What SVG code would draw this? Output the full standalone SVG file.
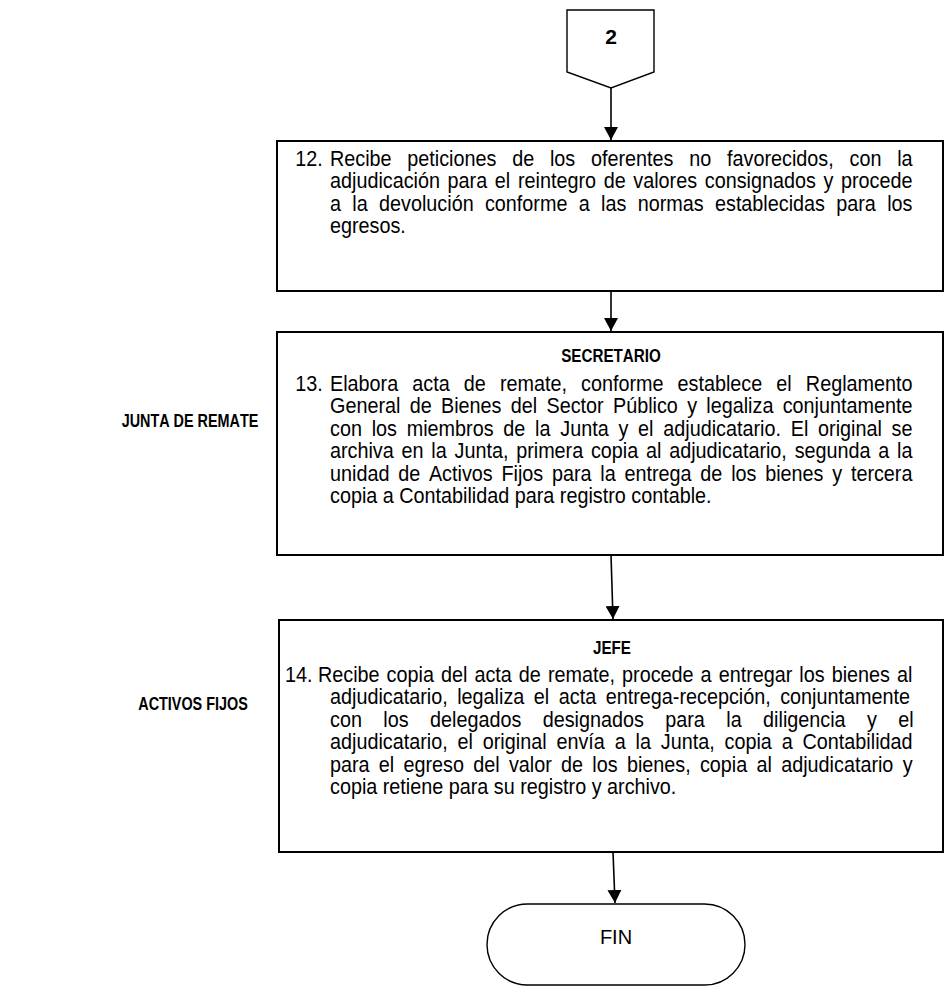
<svg xmlns="http://www.w3.org/2000/svg" width="947" height="994" viewBox="0 0 947 994">
  <style>
    .box { fill: #fff; stroke: #000; stroke-width: 2; }
    .thin { fill: #fff; stroke: #000; stroke-width: 1.4; }
    .flow { fill: none; stroke: #000; stroke-width: 1.6; }
    text { font-family: "Liberation Sans", Arial, sans-serif; fill: #000; font-kerning: none; }
    .body { font-size: 22px; }
    .head { font-size: 19px; font-weight: bold; text-anchor: middle; }
    .lane { font-size: 18px; font-weight: bold; text-anchor: middle; }
  </style>
  <defs>
    <marker id="arrow" markerUnits="userSpaceOnUse" markerWidth="14" markerHeight="14" viewBox="0 0 14 14" refX="13" refY="7" orient="auto">
      <path d="M0,0 L13,7 L0,14 Z" fill="#000"/>
    </marker>
  </defs>
  <rect width="947" height="994" fill="#fff"/>

  <!-- lane labels (condensed) -->
  <text class="lane" transform="translate(190,427) scale(0.8,1)">JUNTA DE REMATE</text>
  <text class="lane" transform="translate(193,710) scale(0.8,1)">ACTIVOS FIJOS</text>

  <!-- connectors -->
  <g id="connectors">
    <path class="flow" d="M611,88 L611,140" marker-end="url(#arrow)"/>
    <path class="flow" d="M611,291 L611,331" marker-end="url(#arrow)"/>
    <path class="flow" d="M611,555 L613,619" marker-end="url(#arrow)"/>
    <path class="flow" d="M613,852 L615,903" marker-end="url(#arrow)"/>
  </g>

  <!-- off-page connector 2 -->
  <g id="offpage-2">
    <path class="thin" d="M567,10 L654,10 L654,72 L611,88 L567,72 Z"/>
    <text x="611" y="44" font-size="21" font-weight="bold" text-anchor="middle">2</text>
  </g>

  <!-- step 12 -->
  <g id="step-12">
    <rect class="box" x="277" y="141" width="666" height="150"/>
    <g transform="scale(0.9,1)">
      <text class="body" x="328" y="166">12.</text>
      <text class="body" x="366.67" y="166" word-spacing="11.43">Recibe peticiones de los oferentes no favorecidos, con la</text>
      <text class="body" x="366.67" y="188.5" word-spacing="2.41">adjudicación para el reintegro de valores consignados y procede</text>
      <text class="body" x="366.67" y="211" word-spacing="6.49">a la devolución conforme a las normas establecidas para los</text>
      <text class="body" x="366.67" y="233.5">egresos.</text>
    </g>
  </g>

  <!-- step 13 -->
  <g id="step-13">
    <rect class="box" x="277" y="332" width="666" height="223"/>
    <text class="head" transform="translate(611,362) scale(0.8,1)">SECRETARIO</text>
    <g transform="scale(0.9,1)">
      <text class="body" x="328" y="391">13.</text>
      <text class="body" x="366.67" y="391" word-spacing="9.57">Elabora acta de remate, conforme establece el Reglamento</text>
      <text class="body" x="366.67" y="413.5" word-spacing="4.24">General de Bienes del Sector Público y legaliza conjuntamente</text>
      <text class="body" x="366.67" y="436" word-spacing="4.76">con los miembros de la Junta y el adjudicatario. El original se</text>
      <text class="body" x="366.67" y="458.5" word-spacing="2.54">archiva en la Junta, primera copia al adjudicatario, segunda a la</text>
      <text class="body" x="366.67" y="481" word-spacing="3.64">unidad de Activos Fijos para la entrega de los bienes y tercera</text>
      <text class="body" x="366.67" y="503.5">copia a Contabilidad para registro contable.</text>
    </g>
  </g>

  <!-- step 14 -->
  <g id="step-14">
    <rect class="box" x="279" y="620" width="664" height="232"/>
    <text class="head" transform="translate(612,654) scale(0.8,1)">JEFE</text>
    <g transform="scale(0.9,1)">
      <text class="body" x="316.67" y="682">14.</text>
      <text class="body" x="353.33" y="682" word-spacing="1.74">Recibe copia del acta de remate, procede a entregar los bienes al</text>
      <text class="body" x="366.67" y="704.5" word-spacing="4.52">adjudicatario, legaliza el acta entrega-recepción, conjuntamente</text>
      <text class="body" x="366.67" y="727" word-spacing="17.69">con los delegados designados para la diligencia y el</text>
      <text class="body" x="366.67" y="749.5" word-spacing="4.86">adjudicatario, el original envía a la Junta, copia a Contabilidad</text>
      <text class="body" x="366.67" y="772" word-spacing="4.2">para el egreso del valor de los bienes, copia al adjudicatario y</text>
      <text class="body" x="366.67" y="794.5">copia retiene para su registro y archivo.</text>
    </g>
  </g>

  <!-- terminator -->
  <g id="fin">
    <rect class="thin" x="487" y="904" width="258" height="81" rx="40.5" ry="40.5"/>
    <text x="616" y="944" font-size="20" text-anchor="middle">FIN</text>
  </g>
</svg>
